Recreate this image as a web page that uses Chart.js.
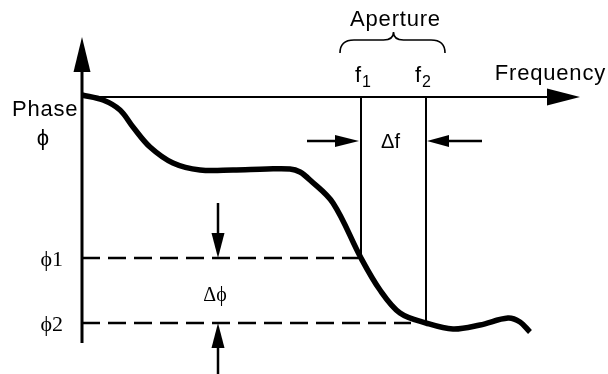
<!DOCTYPE html>
<html>
<head>
<meta charset="utf-8">
<script src="https://cdn.jsdelivr.net/npm/chart.js@4"></script>
<style>
  html, body { margin: 0; padding: 0; background: #fff; }
  #chart { display: block; }
</style>
</head>
<body>
<canvas id="chart" width="608" height="374"></canvas>
<script>
// phase response (frequency / phase in arbitrary units)
const freq  = [0, 2.1, 3.8, 5.1, 6.8, 9.1, 11.8, 15.1, 18.5, 20.8, 21.8, 22.8, 25.1, 27.9, 29.8, 31.8, 34.4, 37.1, 39.8, 42.6, 43.8, 44.8];
const phase = [0.2, -0.3, -1.3, -3.0, -5.0, -6.6, -7.3, -7.3, -7.2, -7.2, -7.5, -8.3, -10.6, -16.1, -19.3, -21.6, -22.6, -23.2, -22.8, -22.1, -22.5, -23.5];

// aperture and phase markers
const apertureFreqs = [27.9, 34.4];     // f1, f2
const markerPhases  = [-16.1, -22.6];   // phi1, phi2

// axis extents (arrow tips)
const freqAxis  = [0, 49.8];
const phaseAxis = [6.0, -24.6];

const labels = {
  xTitle: 'Frequency',
  yTitle: 'Phase',
  ySymbol: '\u03D5',
  aperture: 'Aperture',
  fNames: ['1', '2'],
  deltaF: '\u0394f',
  phiNames: ['\u03D51', '\u03D52'],
  deltaPhi: '\u0394\u03D5'
};

const [f1, f2] = apertureFreqs;
const [phi1, phi2] = markerPhases;

function seg(x0, y0, x1, y1) {
  return [{x: x0, y: y0}, {x: x1, y: y1}];
}

function lineSet(data, width, dash) {
  return {
    data: data,
    borderColor: '#000',
    borderWidth: width,
    borderDash: dash || [],
    pointRadius: 0,
    tension: 0,
    fill: false
  };
}

const curve = freq.map((f, i) => ({x: f, y: phase[i]}));

// arrowheads, brace and text, placed through the scales
const annotate = {
  id: 'annotate',
  afterDatasetsDraw(chart) {
    const ctx = chart.ctx;
    const xs = chart.scales.x, ys = chart.scales.y;
    const px = v => xs.getPixelForValue(v);
    const py = v => ys.getPixelForValue(v);

    function head(tx, ty, dx, dy, len, half) {
      // dx,dy unit direction the arrow points to
      const bx = tx - dx * len, by = ty - dy * len;
      ctx.beginPath();
      ctx.moveTo(tx, ty);
      ctx.lineTo(bx - dy * half, by + dx * half);
      ctx.lineTo(bx + dy * half, by - dx * half);
      ctx.closePath();
      ctx.fill();
    }
    function shaft(x0, y0, x1, y1, w) {
      ctx.beginPath();
      ctx.lineWidth = w;
      ctx.moveTo(x0, y0);
      ctx.lineTo(x1, y1);
      ctx.stroke();
    }

    ctx.save();
    ctx.fillStyle = '#000';
    ctx.strokeStyle = '#000';

    const x0 = px(0), y0 = py(0);

    // axis arrowheads
    head(x0, py(phaseAxis[0]), 0, -1, 35, 8.5);
    head(px(freqAxis[1]), y0, 1, 0, 33, 8.5);

    // delta f arrows
    const ay = y0 + 44;
    shaft(px(f1) - 54, ay, px(f1) - 20, ay, 2.5);
    head(px(f1) - 2, ay, 1, 0, 24, 6);
    shaft(px(f2) + 56, ay, px(f2) + 20, ay, 2.5);
    head(px(f2) + 1, ay, -1, 0, 22, 6);

    // delta phi arrows
    const ax = px(13.6);
    shaft(ax, py(phi1) - 55, ax, py(phi1) - 20, 2.5);
    head(ax, py(phi1), 0, 1, 25, 6.5);
    shaft(ax, py(phi2) + 55, ax, py(phi2) + 20, 2.5);
    head(ax, py(phi2), 0, -1, 25, 6.5);

    // brace over the aperture
    const bl = px(f1) - 21, br = px(f2) + 19, bm = (px(f1) + px(f2)) / 2;
    const bTop = 32, bMid = 40, bEnd = 53;
    ctx.lineWidth = 1.6;
    ctx.beginPath();
    ctx.moveTo(bl, bEnd);
    ctx.quadraticCurveTo(bl, bMid, bl + 14, bMid);
    ctx.lineTo(bm - 10, bMid);
    ctx.quadraticCurveTo(bm, bMid, bm, bTop);
    ctx.quadraticCurveTo(bm, bMid, bm + 10, bMid);
    ctx.lineTo(br - 14, bMid);
    ctx.quadraticCurveTo(br, bMid, br, bEnd);
    ctx.stroke();

    // sans text
    const sans = '"Liberation Sans", Arial, sans-serif';
    const serif = '"Liberation Serif", "Times New Roman", serif';
    ctx.textBaseline = 'alphabetic';
    ctx.letterSpacing = '0.8px';
    ctx.font = '22px ' + sans;
    ctx.textAlign = 'left';
    ctx.fillText(labels.yTitle, 12, y0 + 19);
    ctx.textAlign = 'right';
    ctx.fillText(labels.xTitle, 606, y0 - 17);
    ctx.textAlign = 'center';
    ctx.fillText(labels.aperture, bm + 2, 26);
    ctx.letterSpacing = '0px';
    ctx.textBaseline = 'middle';
    ctx.fillText(labels.ySymbol, x0 - 39, y0 + 42);

    // f1, f2 with subscripts
    ctx.textBaseline = 'alphabetic';
    const fOff = [0, -5];
    apertureFreqs.forEach((f, i) => {
      const cx = px(f) + fOff[i];
      ctx.font = '22px ' + sans;
      ctx.textAlign = 'right';
      ctx.fillText('f', cx, y0 - 15);
      ctx.font = '16px ' + sans;
      ctx.textAlign = 'left';
      ctx.fillText(labels.fNames[i], cx + 1, y0 - 10);
    });

    ctx.font = '20px ' + sans;
    ctx.textAlign = 'center';
    ctx.textBaseline = 'middle';
    ctx.fillText(labels.deltaF, (px(f1) + px(f2)) / 2 - 3, ay + 1);

    // serif phi labels
    ctx.font = '22px ' + serif;
    ctx.textAlign = 'right';
    markerPhases.forEach((p, i) => {
      ctx.fillText(labels.phiNames[i], x0 - 19, py(p) + 2);
    });
    ctx.font = '20px ' + serif;
    ctx.textAlign = 'center';
    ctx.fillText(labels.deltaPhi, ax - 3, (py(phi1) + py(phi2)) / 2 + 5);

    ctx.restore();
  }
};

new Chart(document.getElementById('chart'), {
  type: 'line',
  data: {
    datasets: [
      lineSet(seg(0, 0, freqAxis[1] - 3, 0), 2),
      lineSet(seg(0, phaseAxis[0] - 3, 0, phaseAxis[1]), 3),
      lineSet(seg(f1, 0, f1, phi1), 2),
      lineSet(seg(f2, 0, f2, phi2), 2),
      lineSet(seg(0, phi1, f1, phi1), 2.5, [18, 8]),
      lineSet(seg(0, phi2, f2 - 1.5, phi2), 2.5, [18, 8]),
      Object.assign(lineSet(curve, 5.5), {tension: 0.35, borderCapStyle: 'butt'})
    ]
  },
  options: {
    responsive: false,
    animation: false,
    layout: { padding: 0 },
    plugins: { legend: { display: false }, tooltip: { enabled: false } },
    scales: {
      x: { type: 'linear', display: false, min: -8.2, max: 52.6 },
      y: { type: 'linear', display: false, min: -27.7, max: 9.7 }
    }
  },
  plugins: [annotate]
});
</script>
</body>
</html>
